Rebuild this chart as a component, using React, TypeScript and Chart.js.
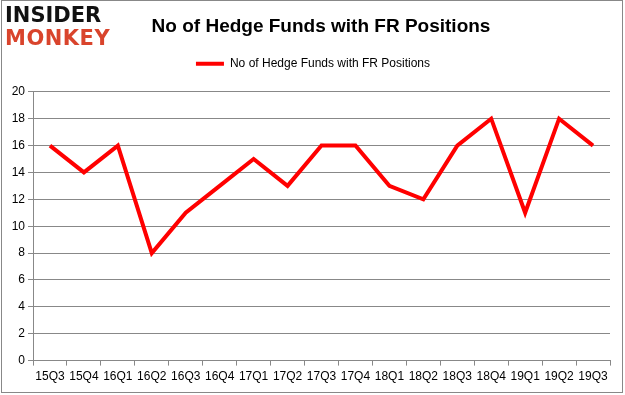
import React, { useEffect, useRef } from "react";
import { Chart, registerables } from "chart.js";

Chart.register(...registerables);

const categories = ["15Q3","15Q4","16Q1","16Q2","16Q3","16Q4","17Q1","17Q2","17Q3","17Q4","18Q1","18Q2","18Q3","18Q4","19Q1","19Q2","19Q3"];
const hedgeFunds = [16,14,16,8,11,13,15,13,16,16,13,12,16,18,11,18,16];
const seriesLabel = "No of Hedge Funds with FR Positions";
const titleText = "No of Hedge Funds with FR Positions";

const layoutTweak = {
  id: "layoutTweak",
  beforeInit(chart: any) {
    const fit = chart.legend.fit;
    chart.legend.fit = function () {
      fit.call(this);
      this.height += 12;
    };
  },
  afterLayout(chart: any) {
    if (chart.titleBlock) {
      chart.titleBlock.left += 16;
      chart.titleBlock.right += 16;
    }
    if (chart.legend) {
      chart.legend.left += 8;
      chart.legend.right += 8;
    }
  },
};

export default function App() {
  const ref = useRef<HTMLCanvasElement>(null);
  useEffect(() => {
    document.body.style.margin = "0";
    const chart = new Chart(ref.current!, {
      type: "line",
      data: {
        labels: categories,
        datasets: [{
          label: seriesLabel,
          data: hedgeFunds,
          borderColor: "#ff0000",
          backgroundColor: "#ff0000",
          borderWidth: 4,
          pointRadius: 0,
          tension: 0,
        }],
      },
      options: {
        animation: false,
        responsive: false,
        layout: { padding: { left: 0, right: 15, top: 0, bottom: 7 } },
        plugins: {
          title: {
            display: true,
            text: titleText,
            color: "#000",
            font: { family: "Liberation Sans", size: 19, weight: "bold" },
            padding: { top: 15, bottom: 10 },
          },
          legend: {
            labels: {
              font: { family: "Liberation Sans", size: 12 },
              color: "#000",
              boxWidth: 28,
              boxHeight: 4,
              generateLabels: (c: any) => {
                const items = Chart.defaults.plugins.legend.labels.generateLabels(c);
                return items.map((i: any) => ({ ...i, lineWidth: 0 }));
              },
            },
          },
          tooltip: { enabled: false },
        },
        scales: {
          x: {
            offset: true,
            grid: { drawOnChartArea: false, drawTicks: true, tickLength: 5, tickColor: "#888", offset: true },
            border: { color: "#888", width: 1 },
            ticks: { color: "#000", font: { family: "Liberation Sans", size: 12 }, maxRotation: 0, autoSkip: false, padding: 4 },
          },
          y: {
            min: 0,
            max: 20,
            afterFit: (s: any) => { s.width = 33; },
            grid: { color: "#888", tickLength: 5, tickColor: "#888" },
            border: { color: "#888", width: 1 },
            ticks: { stepSize: 2, color: "#000", font: { family: "Liberation Sans", size: 12 }, padding: 3 },
          },
        },
      },
      plugins: [layoutTweak],
    });
    return () => chart.destroy();
  }, []);
  return (
    <div style={{ position: "relative", width: 625, height: 395, background: "#fff" }}>
      <canvas ref={ref} width={625} height={395} style={{ position: "absolute", left: 0, top: 0 }} />
      <div style={{ position: "absolute", left: 1, top: 0, width: 622, height: 393, border: "1px solid #888", boxSizing: "border-box", pointerEvents: "none" }} />
      <div style={{ position: "absolute", left: 5, top: 4, fontFamily: "DejaVu Sans", fontWeight: 900, fontSize: 21, lineHeight: "22px", letterSpacing: 0, color: "#111" }}>INSIDER</div>
      <div style={{ position: "absolute", left: 5, top: 27, fontFamily: "DejaVu Sans", fontWeight: 900, fontSize: 21, lineHeight: "22px", letterSpacing: 0.5, color: "#d9442c" }}>MONKEY</div>
    </div>
  );
}
